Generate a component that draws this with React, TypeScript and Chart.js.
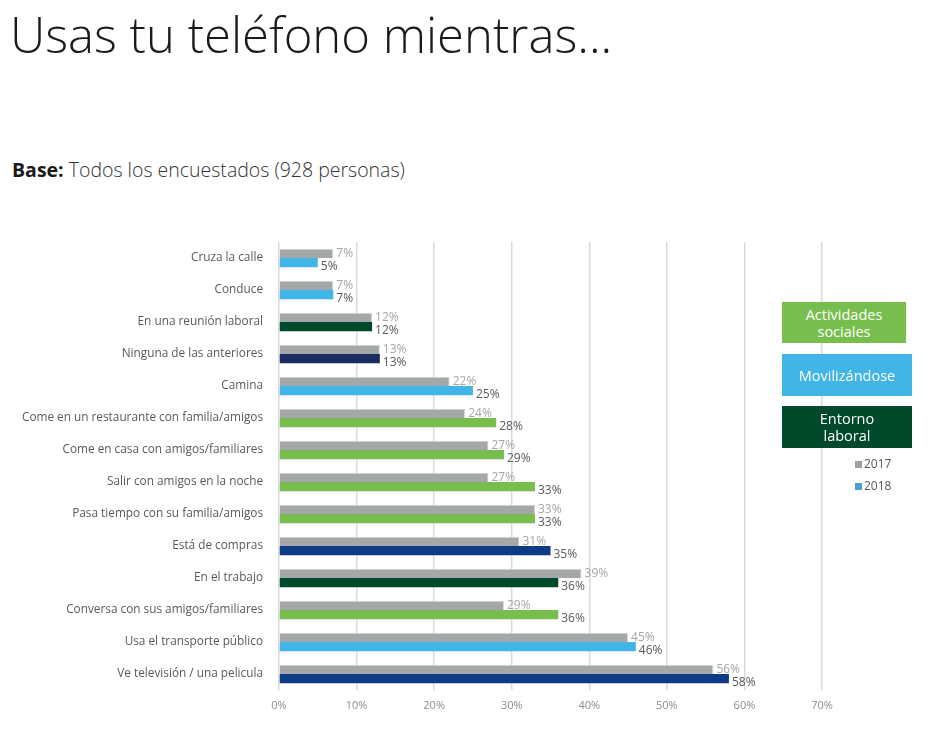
import React, { useEffect, useRef } from "react";
import { Chart, registerables } from "chart.js";

Chart.register(...registerables);

const categories = [
  "Cruza la calle",
  "Conduce",
  "En una reunión laboral",
  "Ninguna de las anteriores",
  "Camina",
  "Come en un restaurante con familia/amigos",
  "Come en casa con amigos/familiares",
  "Salir con amigos en la noche",
  "Pasa tiempo con su familia/amigos",
  "Está de compras",
  "En el trabajo",
  "Conversa con sus amigos/familiares",
  "Usa el transporte público",
  "Ve televisión / una pelicula",
];

const values2017 = [7, 7, 12, 13, 22, 24, 27, 27, 33, 31, 39, 29, 45, 56];
const values2018 = [5, 7, 12, 13, 25, 28, 29, 33, 33, 35, 36, 36, 46, 58];

const groups = [
  "movil", "movil", "laboral", "ninguna", "movil", "social", "social",
  "social", "social", "compras", "laboral", "social", "movil", "compras",
];

const xTicks = [0, 10, 20, 30, 40, 50, 60, 70];

const groupColors: Record<string, string> = {
  social: "#78BE4E",
  movil: "#41B6E6",
  laboral: "#00492B",
  ninguna: "#1A2B5F",
  compras: "#0D3C84",
};

const FONT = "'Open Sans', 'Noto Sans', sans-serif";

const labelPlugin = {
  id: "barLabels",
  afterDatasetsDraw(chart: any) {
    const ctx = chart.ctx;
    ctx.save();
    ctx.font = `12px ${FONT}`;
    ctx.textAlign = "left";
    ctx.textBaseline = "middle";
    chart.data.datasets.forEach((ds: any, di: number) => {
      const meta = chart.getDatasetMeta(di);
      meta.data.forEach((bar: any, i: number) => {
        ctx.fillStyle = di === 0 ? "#A6A6A6" : "#595959";
        const dy = di === 0 ? 0 : 4;
        ctx.fillText(ds.data[i] + "%", bar.x + 3, bar.y + dy);
      });
    });
    ctx.restore();
  },
};

function BarChart() {
  const ref = useRef<HTMLCanvasElement>(null);
  useEffect(() => {
    if (!ref.current) return;
    const chart = new Chart(ref.current, {
      type: "bar",
      data: {
        labels: categories,
        datasets: [
          {
            label: "2017",
            data: values2017,
            backgroundColor: "#A5A8A9",
            borderColor: "#D3D5D6",
            borderWidth: { top: 1, right: 1, bottom: 0, left: 0 } as any,
            borderSkipped: false,
            categoryPercentage: 0.58,
            barPercentage: 1,
          },
          {
            label: "2018",
            data: values2018,
            backgroundColor: groups.map((g) => groupColors[g]),
            categoryPercentage: 0.58,
            barPercentage: 1,
          },
        ],
      },
      options: {
        indexAxis: "y",
        animation: false,
        responsive: false,
        maintainAspectRatio: false,
        layout: { padding: { top: 10, right: 113, bottom: 0, left: 0 } },
        plugins: {
          legend: { display: false },
          tooltip: { enabled: false },
        },
        scales: {
          x: {
            min: 0,
            max: 70,
            afterBuildTicks: (s: any) => {
              s.ticks = xTicks.map((v) => ({ value: v }));
            },
            afterFit: (s: any) => {
              s.height = 30;
            },
            grid: {
              color: "#DADADA",
              lineWidth: 1.5,
              drawTicks: false,
            },
            border: { display: false },
            ticks: {
              padding: 9,
              color: "#8C8C8C",
              font: { family: FONT, size: 11 },
              callback: (v: any) => v + "%",
            },
          },
          y: {
            afterFit: (s: any) => {
              s.width = 279;
            },
            grid: { display: false, drawTicks: false },
            border: { display: false },
            ticks: {
              padding: 16,
              color: "#595959",
              font: { family: FONT, size: 11.8 },
            },
          },
        },
      },
      plugins: [labelPlugin],
    });
    return () => chart.destroy();
  }, []);
  return (
    <canvas
      ref={ref}
      width={935}
      height={501}
      style={{ position: "absolute", left: 0, top: 219, width: 935, height: 501 }}
    />
  );
}

const boxStyle = (bg: string, top: number, width: number, height: number): React.CSSProperties => ({
  position: "absolute",
  left: 782,
  top,
  width,
  height,
  background: bg,
  color: "#FFFFFF",
  fontFamily: FONT,
  fontSize: 14.5,
  lineHeight: "17px",
  display: "flex",
  alignItems: "center",
  justifyContent: "center",
  textAlign: "center",
});

export default function App() {
  return (
    <div
      style={{
        position: "absolute",
        left: 0,
        top: 0,
        width: 935,
        height: 743,
        background: "#FFFFFF",
        overflow: "hidden",
        fontFamily: FONT,
      }}
    >
      <div
        style={{
          position: "absolute",
          left: 10,
          top: 10,
          fontSize: 49,
          lineHeight: "49px",
          fontWeight: 300,
          color: "#1A1A1A",
          whiteSpace: "nowrap",
        }}
      >
        Usas tu teléfono mientras...
      </div>
      <div
        style={{
          position: "absolute",
          left: 12,
          top: 160,
          fontSize: 19.5,
          lineHeight: "19.5px",
          color: "#333333",
          whiteSpace: "nowrap",
        }}
      >
        <span style={{ fontWeight: 700, color: "#1A1A1A" }}>Base:</span>{" "}
        <span style={{ fontWeight: 300 }}>Todos los encuestados (928 personas)</span>
      </div>
      <BarChart />
      <div style={boxStyle("#78BE4E", 302, 124, 41)}>
        Actividades
        <br />
        sociales
      </div>
      <div style={boxStyle("#41B6E6", 354, 130, 42)}>Movilizándose</div>
      <div style={boxStyle("#00492B", 406, 130, 42)}>
        Entorno
        <br />
        laboral
      </div>
      <div
        style={{
          position: "absolute",
          left: 855,
          top: 457,
          fontSize: 12,
          lineHeight: "14px",
          color: "#595959",
        }}
      >
        <div style={{ display: "flex", alignItems: "center", height: 14 }}>
          <span style={{ display: "inline-block", width: 7, height: 7, background: "#A0A0A0", marginRight: 2 }} />
          2017
        </div>
        <div style={{ display: "flex", alignItems: "center", height: 14, marginTop: 8 }}>
          <span style={{ display: "inline-block", width: 7, height: 7, background: "#4A9FD0", marginRight: 2 }} />
          2018
        </div>
      </div>
    </div>
  );
}
